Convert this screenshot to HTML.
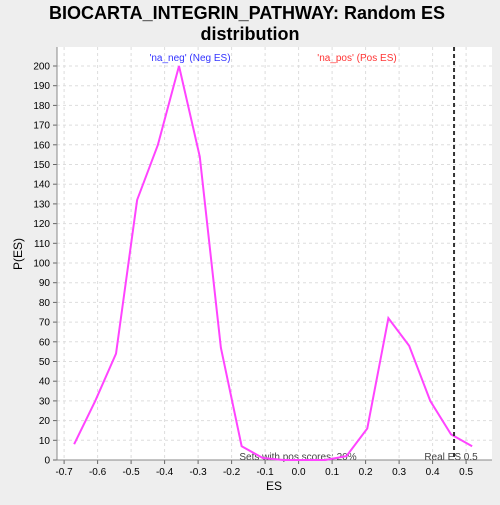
<!DOCTYPE html>
<html><head><meta charset="utf-8"><style>
body{margin:0;background:#eeeeee;width:500px;height:500px;overflow:hidden;font-family:"Liberation Sans",sans-serif}
</style></head><body>
<svg width="500" height="500" xmlns="http://www.w3.org/2000/svg">
<text x="247" y="19" text-anchor="middle" font-size="18" font-weight="bold">BIOCARTA_INTEGRIN_PATHWAY: Random ES</text>
<text x="250" y="40" text-anchor="middle" font-size="18" font-weight="bold">distribution</text>
<rect x="57" y="47" width="435" height="413" fill="#fff"/>
<g id="grid"></g><g id="axes"></g>
<text x="190" y="61" text-anchor="middle" font-size="10" fill="#3333ff">'na_neg' (Neg ES)</text>
<text x="357" y="61" text-anchor="middle" font-size="10" fill="#ff3333">'na_pos' (Pos ES)</text>
<text x="298" y="460" text-anchor="middle" font-size="10" fill="#444">Sets with pos scores: 20%</text>
<text x="451" y="460" text-anchor="middle" font-size="10" fill="#444">Real ES 0.5</text>
<polyline id="line" fill="none" stroke="#ff44ff" stroke-width="2"/>
<line id="real" stroke="#333" stroke-width="2" stroke-dasharray="4,3"/>
<text x="274" y="490" text-anchor="middle" font-size="12">ES</text>
<text x="22" y="254" text-anchor="middle" font-size="12" transform="rotate(-90 22 254)">P(ES)</text>
</svg>
<script>
const esValues=[-0.67,-0.607,-0.545,-0.482,-0.42,-0.357,-0.295,-0.232,-0.17,-0.107,-0.045,0.018,0.08,0.143,0.205,0.268,0.33,0.393,0.455,0.518];
const densities=[8,30,54,132,160,200,154,57,7,1,0,0,0,2,16,72,58,30,13,7];
const xTicks=[-0.7,-0.6,-0.5,-0.4,-0.3,-0.2,-0.1,0.0,0.1,0.2,0.3,0.4,0.5];
const yTicks=[0,10,20,30,40,50,60,70,80,90,100,110,120,130,140,150,160,170,180,190,200];
const realES=0.464;
const X=v=>298.6+v*335, Y=v=>460-v*1.97;
const NS="http://www.w3.org/2000/svg";
const g=document.getElementById('grid'), a=document.getElementById('axes');
function el(t,at,p){const e=document.createElementNS(NS,t);for(const k in at)e.setAttribute(k,at[k]);p.appendChild(e);return e;}
xTicks.forEach(t=>{const x=X(t);
 const l=el('line',{x1:x,x2:x,y1:47,y2:460,stroke:'#ddd','stroke-dasharray':'3,3'},g);
 
 
 const tk=el('line',{x1:x,x2:x,y1:460,y2:464,stroke:'#666'},a);
 
 
 const tx=el('text',{x:x,y:475,'text-anchor':'middle','font-size':10},a);tx.textContent=t.toFixed(1);
 
 });
yTicks.forEach(t=>{const y=Y(t);
 const l=el('line',{x1:57,x2:492,y1:y,y2:y,stroke:'#ddd','stroke-dasharray':'3,3'},g);
 
 
 const tk=el('line',{x1:53,x2:57,y1:y,y2:y,stroke:'#666'},a);
 
 
 const tx=el('text',{x:50,y:y+3.5,'text-anchor':'end','font-size':10},a);tx.textContent=t;
 
 });
const ax=el('path',{d:'M57,47V460H492',fill:'none',stroke:'#888'},a);


document.getElementById('line').setAttribute('points',esValues.map((v,i)=>X(v)+','+Y(densities[i])).join(' '));
const r=document.getElementById('real');
r.setAttribute('x1',X(realES));r.setAttribute('x2',X(realES));r.setAttribute('y1',47);r.setAttribute('y2',460);
</script>
</body></html>
